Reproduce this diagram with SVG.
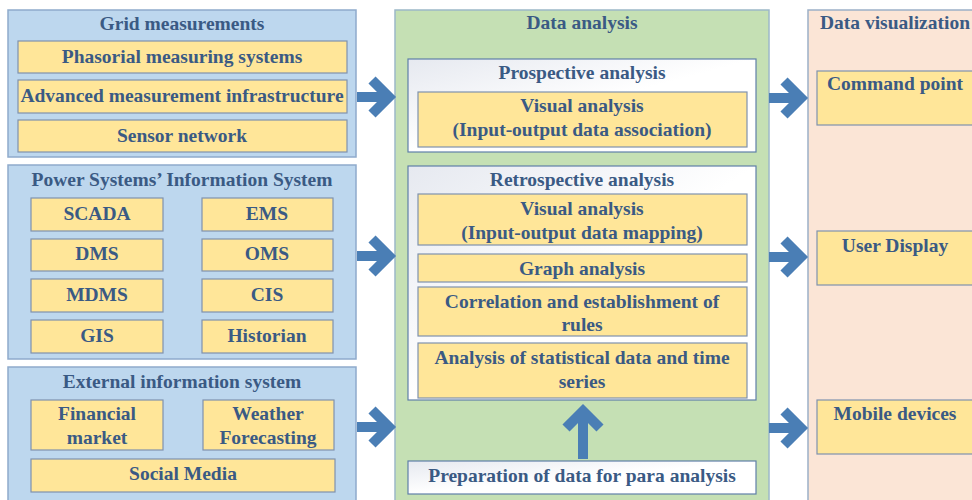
<svg xmlns="http://www.w3.org/2000/svg" width="972" height="500" viewBox="0 0 972 500">
<defs>
<linearGradient id="wg" x1="0" y1="0" x2="1" y2="1">
<stop offset="0" stop-color="#E6E9F0"/>
<stop offset="0.5" stop-color="#FFFFFF"/>
<stop offset="1" stop-color="#FFFFFF"/>
</linearGradient>
</defs>
<style>
text{font-family:'Liberation Serif','DejaVu Serif',serif;font-weight:bold;font-size:19.5px;fill:#3A5A84;text-anchor:middle}
.blue{fill:#BDD7EE;stroke:#8FAACC;stroke-width:1.5}
.green{fill:#C5E0B4;stroke:#9CB8C8;stroke-width:1.5}
.peach{fill:#FBE5D6;stroke:#9CB0C8;stroke-width:1.5}
.yel{fill:#FFE699;stroke:#7F92AE;stroke-width:1.2}
.wht{fill:url(#wg);stroke:#5F7FA8;stroke-width:1.2}
.arr{fill:none;stroke:#4A7EB5;stroke-width:10;stroke-linejoin:miter}
</style>

<g id="grid-measurements">
<rect class="blue" x="8" y="10" width="348" height="147"/>
<text x="182" y="30">Grid measurements</text>
<g id="pms"><rect class="yel" x="18" y="41" width="329" height="32"/><text x="182" y="63">Phasorial measuring systems</text></g>
<g id="ami"><rect class="yel" x="18" y="80" width="329" height="33"/><text x="182" y="102">Advanced measurement infrastructure</text></g>
<g id="sensor"><rect class="yel" x="18" y="120" width="329" height="32"/><text x="182" y="142">Sensor network</text></g>
</g>

<g id="psis">
<rect class="blue" x="8" y="165" width="348" height="194"/>
<text x="182" y="186">Power Systems’ Information System</text>
<g id="scada"><rect class="yel" x="31" y="198" width="132" height="33"/><text x="97" y="220">SCADA</text></g>
<g id="ems"><rect class="yel" x="202" y="198" width="131" height="33"/><text x="267" y="220">EMS</text></g>
<g id="dms"><rect class="yel" x="31" y="239" width="132" height="32"/><text x="97" y="260">DMS</text></g>
<g id="oms"><rect class="yel" x="202" y="239" width="131" height="32"/><text x="267" y="260">OMS</text></g>
<g id="mdms"><rect class="yel" x="31" y="279" width="132" height="33"/><text x="97" y="301">MDMS</text></g>
<g id="cis"><rect class="yel" x="202" y="279" width="131" height="33"/><text x="267" y="301">CIS</text></g>
<g id="gis"><rect class="yel" x="31" y="320" width="132" height="33"/><text x="97" y="342">GIS</text></g>
<g id="historian"><rect class="yel" x="202" y="320" width="131" height="33"/><text x="267" y="342">Historian</text></g>
</g>

<g id="external">
<rect class="blue" x="8" y="367" width="348" height="140"/>
<text x="182" y="388">External information system</text>
<g id="financial"><rect class="yel" x="31" y="400" width="132" height="50"/><text x="97" y="420">Financial</text><text x="97" y="444">market</text></g>
<g id="weather"><rect class="yel" x="203" y="400" width="131" height="50"/><text x="268" y="420">Weather</text><text x="268" y="444">Forecasting</text></g>
<g id="social"><rect class="yel" x="31" y="459" width="304" height="33"/><text x="183" y="480">Social Media</text></g>
</g>

<g id="data-analysis">
<rect class="green" x="395" y="10" width="374" height="497"/>
<text x="582" y="29">Data analysis</text>
<g id="prospective">
<rect class="wht" x="408" y="59" width="348" height="93"/>
<text x="582" y="79">Prospective analysis</text>
<g id="visual1"><rect class="yel" x="418" y="92" width="329" height="55"/><text x="582" y="112">Visual analysis</text><text x="582" y="136">(Input-output data association)</text></g>
</g>
<g id="retrospective">
<rect class="wht" x="408" y="166" width="348" height="234"/>
<text x="582" y="186">Retrospective analysis</text>
<g id="visual2"><rect class="yel" x="418" y="194" width="329" height="51"/><text x="582" y="215">Visual analysis</text><text x="582" y="239">(Input-output data mapping)</text></g>
<g id="graph"><rect class="yel" x="418" y="254" width="329" height="28"/><text x="582" y="275">Graph analysis</text></g>
<g id="correlation"><rect class="yel" x="418" y="287" width="329" height="49"/><text x="582" y="308">Correlation and establishment of</text><text x="582" y="331">rules</text></g>
<g id="statistical"><rect class="yel" x="418" y="343" width="329" height="55"/><text x="582" y="364">Analysis of statistical data and time</text><text x="582" y="388">series</text></g>
</g>
<g id="preparation"><rect class="wht" x="408" y="461" width="348" height="33"/><text x="582" y="482">Preparation of data for para analysis</text></g>
</g>

<g id="data-visualization">
<rect class="peach" x="808" y="10" width="180" height="497"/>
<text x="895" y="29">Data visualization</text>
<g id="command"><rect class="yel" x="817" y="71" width="170" height="54"/><text x="895" y="90">Command point</text></g>
<g id="user"><rect class="yel" x="817" y="231" width="170" height="54"/><text x="895" y="252">User Display</text></g>
<g id="mobile"><rect class="yel" x="817" y="400" width="170" height="54"/><text x="895" y="420">Mobile devices</text></g>
</g>

<g id="connectors">
<path class="arr" d="M357 97H390M372 80L389 97L372 114"/>
<path class="arr" d="M357 256H390M372 239L389 256L372 273"/>
<path class="arr" d="M357 427H390M372 410L389 427L372 444"/>
<path class="arr" d="M769 98H802M784 81L801 98L784 115"/>
<path class="arr" d="M769 257H802M784 240L801 257L784 274"/>
<path class="arr" d="M769 428H802M784 411L801 428L784 445"/>
<path class="arr" d="M583 459V411M566 428L583 411L600 428"/>
</g>
</svg>
